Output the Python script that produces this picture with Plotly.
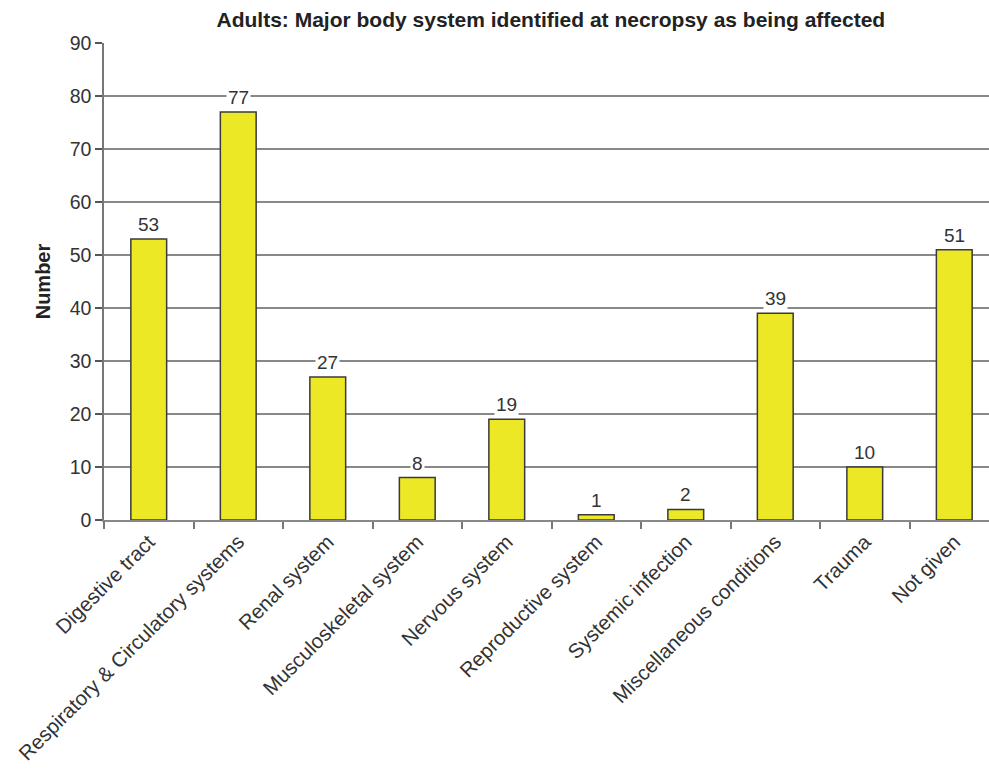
import plotly.graph_objects as go

categories = ["Digestive tract", "Respiratory & Circulatory systems", "Renal system",
              "Musculoskeletal system", "Nervous system", "Reproductive system",
              "Systemic infection", "Miscellaneous conditions", "Trauma", "Not given"]
values = [53, 77, 27, 8, 19, 1, 2, 39, 10, 51]
y_ticks = [0, 10, 20, 30, 40, 50, 60, 70, 80, 90]

FONT = "Liberation Sans, Arial, sans-serif"

fig = go.Figure()
fig.add_trace(go.Bar(
    x=categories, y=values, width=0.4,
    marker=dict(color="#ece826", line=dict(color="#3a3a3a", width=1.5)),
    showlegend=False,
))

for c, v in zip(categories, values):
    fig.add_annotation(x=c, y=v, text=str(v), showarrow=False, yanchor="bottom",
                       yshift=2, bgcolor="white", borderpad=1,
                       font=dict(family=FONT, size=19, color="#333333"))

fig.update_layout(
    width=989, height=771,
    margin=dict(l=104, r=0, t=43, b=251),
    paper_bgcolor="white", plot_bgcolor="white",
    font=dict(family=FONT, color="#333333"),
    title=dict(text="<b>Adults: Major body system identified at necropsy as being affected</b>",
               x=0.557, xanchor="center", y=0.974, yanchor="middle",
               font=dict(family=FONT, size=21, color="#222222")),
    bargap=0.6,
)
fig.update_xaxes(
    range=[-0.5, 9.388], tickangle=-45, tickson="boundaries", ticks="outside",
    ticklen=7, tickcolor="#777777", tickwidth=1.5,
    showline=True, linecolor="#888888", linewidth=1.5, automargin=False,
    tickfont=dict(family=FONT, size=20.5, color="#333333"), showgrid=False,
)
fig.update_yaxes(
    range=[0, 90], tickvals=y_ticks, ticks="outside", ticklen=7,
    tickcolor="#555555", tickwidth=1.5, automargin=False,
    showline=True, linecolor="#777777", linewidth=1.5,
    showgrid=True, gridcolor="#888888", gridwidth=1.5, zeroline=False,
    tickfont=dict(family=FONT, size=19.5, color="#333333"),
    title=dict(text="<b>Number</b>", standoff=14, font=dict(family=FONT, size=20, color="#222222")),
)

fig.write_html("out.html")
